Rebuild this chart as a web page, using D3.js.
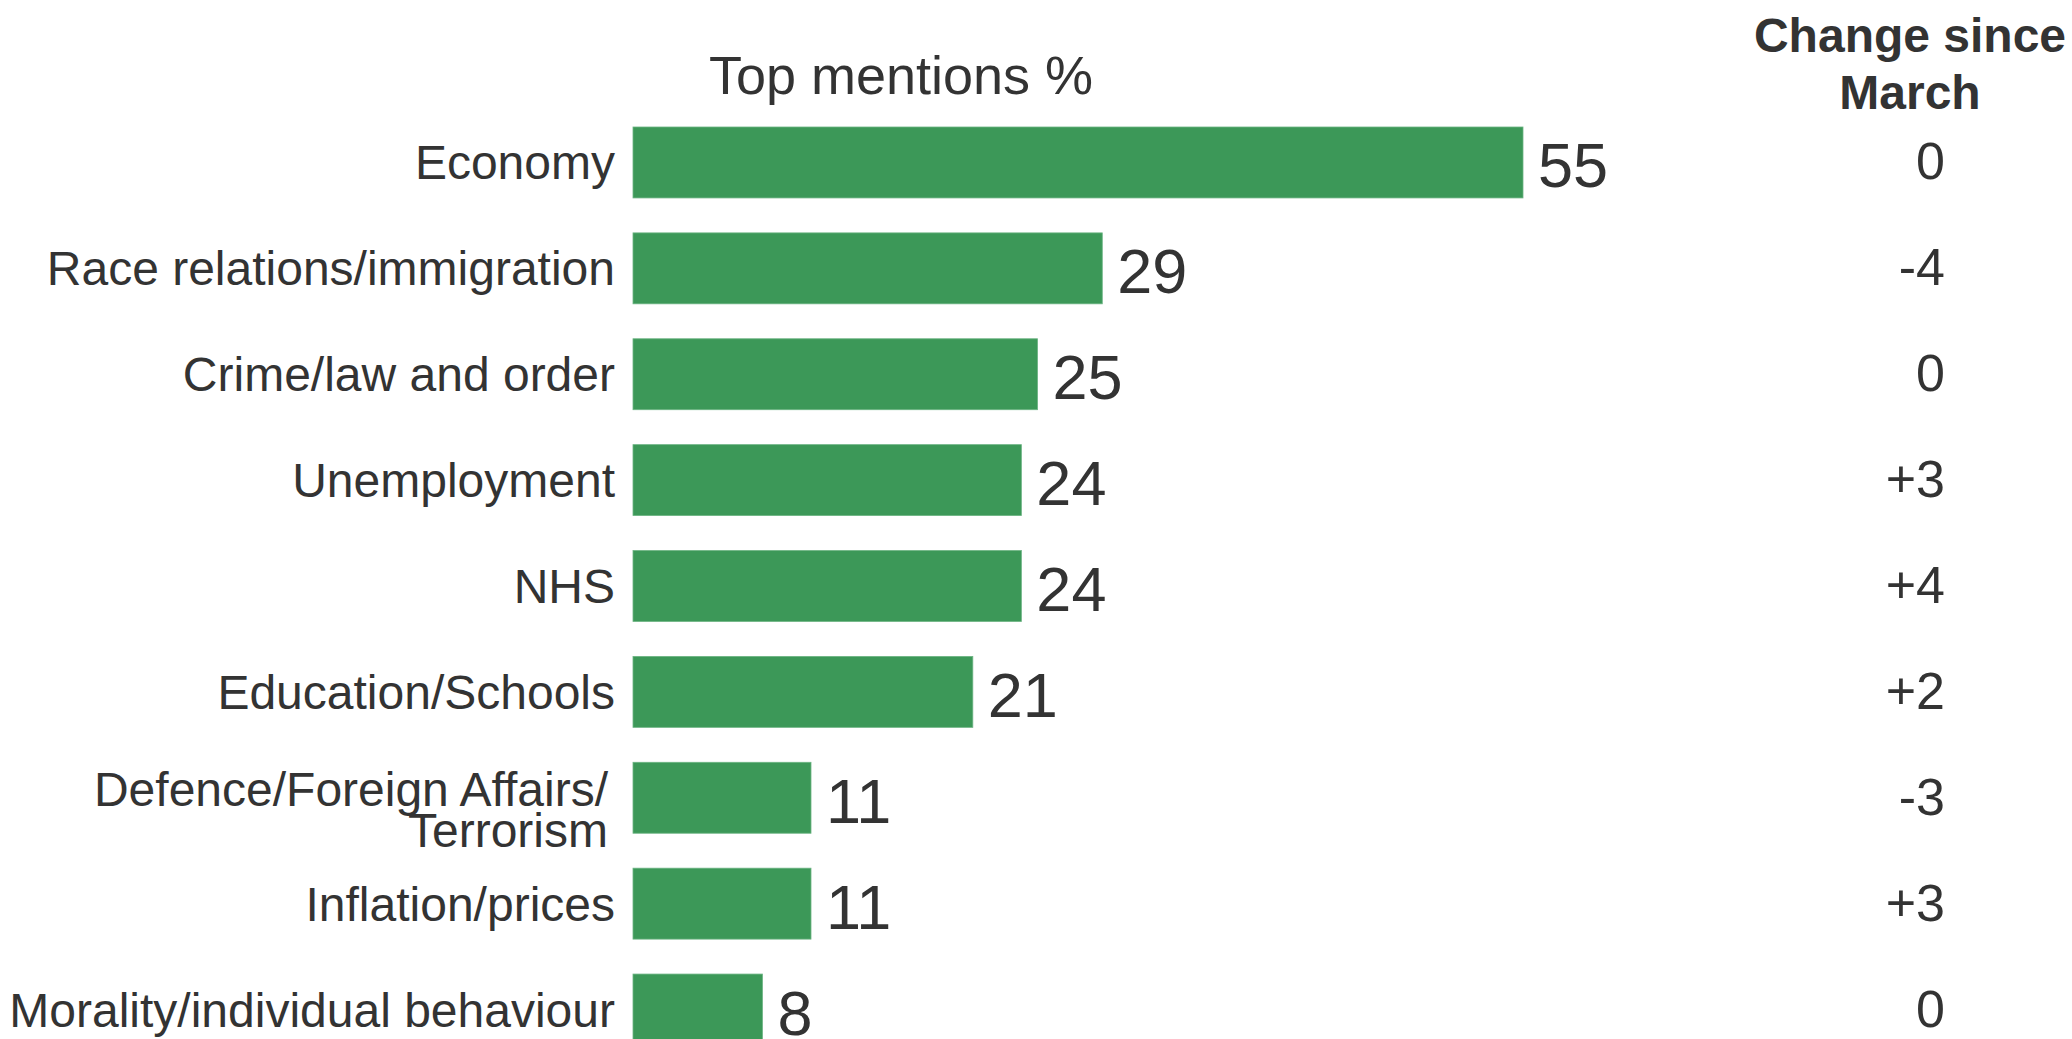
<!DOCTYPE html>
<html>
<head>
<meta charset="utf-8">
<script src="https://cdn.jsdelivr.net/npm/d3@7"></script>
<style>
  html, body { margin: 0; padding: 0; background: #ffffff; }
  svg { display: block; }
  text { font-family: "Liberation Sans", Arial, sans-serif; fill: #333333; }
</style>
</head>
<body>
<svg id="chart" width="2072" height="1039"></svg>
<script>
const categories = [
  "Economy",
  "Race relations/immigration",
  "Crime/law and order",
  "Unemployment",
  "NHS",
  "Education/Schools",
  "Defence/Foreign Affairs/\nTerrorism",
  "Inflation/prices",
  "Morality/individual behaviour"
];
const topMentions = [55, 29, 25, 24, 24, 21, 11, 11, 8];
const changeSinceMarch = ["0", "-4", "0", "+3", "+4", "+2", "-3", "+3", "0"];
const barHeader = "Top mentions %";
const changeHeader = ["Change since", "March"];

const svg = d3.select("#chart");

const x = d3.scaleLinear().domain([0, 55]).range([633, 1523]);
const y = d3.scaleBand().domain(categories).range([127, 1045]).paddingInner(0.33).paddingOuter(0);

const rows = categories.map((c, i) => ({ cat: c, v: topMentions[i], ch: changeSinceMarch[i] }));

// bars
svg.append("g").selectAll("rect").data(rows).join("rect")
  .attr("x", x(0))
  .attr("y", d => y(d.cat))
  .attr("width", d => x(d.v) - x(0))
  .attr("height", y.bandwidth())
  .attr("fill", "#3c9858")
  .attr("stroke", "#6cb483")
  .attr("stroke-width", 0.8);

// category labels
const lab = svg.append("g").selectAll("text").data(rows).join("text")
  .attr("text-anchor", "end")
  .style("font-size", "48px");
lab.each(function(d) {
  const lines = d.cat.split("\n");
  const cy = y(d.cat) + y.bandwidth() / 2;
  const t = d3.select(this);
  if (lines.length === 1) {
    t.append("tspan").attr("x", 615).attr("y", cy + 17).text(lines[0]);
  } else {
    lines.forEach((ln, k) => {
      t.append("tspan").attr("x", 608).attr("y", cy + 8 + k * 41).text(ln);
    });
  }
});

// value labels
svg.append("g").selectAll("text").data(rows).join("text")
  .attr("x", d => x(d.v) + 15)
  .attr("y", d => y(d.cat) + y.bandwidth() / 2 + 25)
  .style("font-size", "63px")
  .text(d => d.v);

// change column
svg.append("g").selectAll("text").data(rows).join("text")
  .attr("x", 1945)
  .attr("y", d => y(d.cat) + y.bandwidth() / 2 + 17)
  .attr("text-anchor", "end")
  .style("font-size", "52px")
  .text(d => d.ch);

// headers
svg.append("text")
  .attr("x", 901).attr("y", 94)
  .attr("text-anchor", "middle")
  .style("font-size", "54px")
  .text(barHeader);

svg.append("g").selectAll("text").data(changeHeader).join("text")
  .attr("x", 1910)
  .attr("y", (d, i) => 52 + i * 57)
  .attr("text-anchor", "middle")
  .style("font-size", "48px")
  .style("font-weight", "bold")
  .text(d => d);
</script>
</body>
</html>
